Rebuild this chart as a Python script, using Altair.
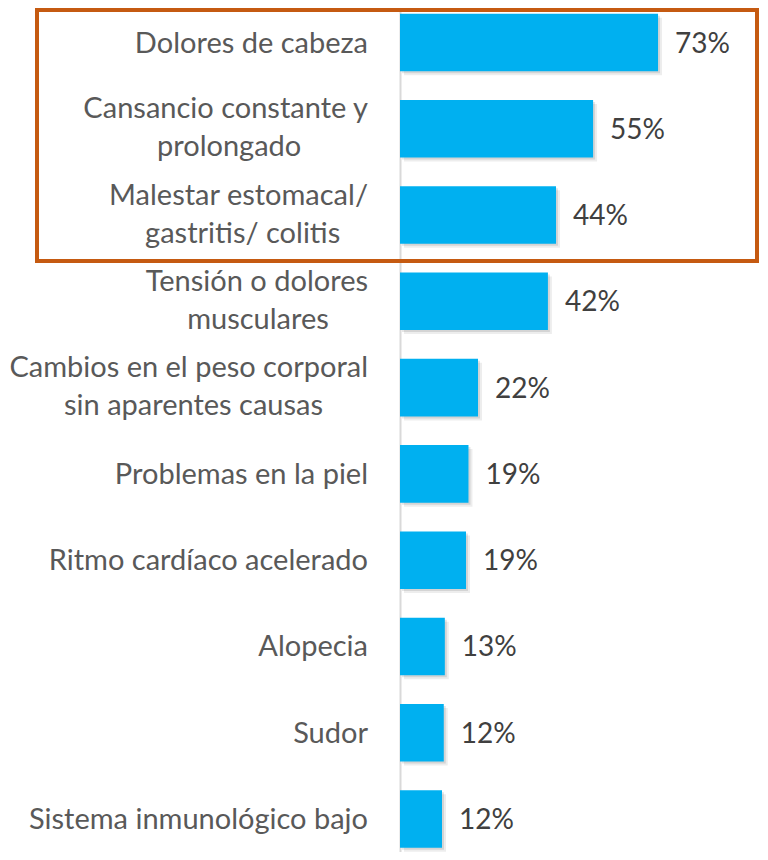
import altair as alt
import pandas as pd

categories = [
    "Dolores de cabeza",
    "Cansancio constante y prolongado",
    "Malestar estomacal/ gastritis/ colitis",
    "Tensión o dolores musculares",
    "Cambios en el peso corporal sin aparentes causas",
    "Problemas en la piel",
    "Ritmo cardíaco acelerado",
    "Alopecia",
    "Sudor",
    "Sistema inmunológico bajo",
]
label_line1 = [
    "Dolores de cabeza",
    "Cansancio constante y",
    "Malestar estomacal/",
    "Tensión o dolores",
    "Cambios en el peso corporal",
    "Problemas en la piel",
    "Ritmo cardíaco acelerado",
    "Alopecia",
    "Sudor",
    "Sistema inmunológico bajo",
]
label_line2 = ["", "prolongado", "gastritis/ colitis", "musculares",
               "sin aparentes causas", "", "", "", "", ""]
values = [73.1, 54.7, 44.2, 41.9, 22.1, 19.4, 18.7, 12.7, 12.4, 11.9]

FS = 29
FS_VAL = 28
FONT = "Lato"
LABEL_GAP = 32
PX_PER_UNIT = 3.53
WIDTH = 353

# rough Lato advance widths (em) used only to centre the second label line
W = {" ": .193, "/": .37, "a": .49, "b": .56, "c": .46, "d": .56, "e": .52,
     "f": .31, "g": .50, "h": .56, "i": .24, "í": .24, "j": .24, "k": .50,
     "l": .24, "m": .84, "n": .56, "o": .56, "ó": .56, "p": .56, "q": .56,
     "r": .36, "s": .42, "t": .34, "u": .56, "v": .50, "w": .76, "x": .49,
     "y": .50, "z": .45, "C": .66, "M": .86, "T": .56}


def est_width(s):
    return sum(W.get(ch, .55) for ch in s) * FS


df = pd.DataFrame({
    "cat": categories,
    "value": values,
    "line1": label_line1,
    "line2": label_line2,
})
df["two"] = df["line2"] != ""
df["x2"] = [(-LABEL_GAP - est_width(a) / 2) / PX_PER_UNIT for a in label_line1]

y_scale = alt.Scale(domain=categories, range=[-8.6, 854.1],
                    paddingInner=0.333, paddingOuter=0.1665)
y_enc = alt.Y("cat:N", sort=categories, scale=y_scale,
              axis=alt.Axis(labels=False, ticks=False, title=None,
                            domainColor="#d9d9d9", domainWidth=2))
x_scale = alt.Scale(domain=[0, 100], nice=False, zero=True)

base = alt.Chart(df).encode(y=y_enc)

shadow1 = base.mark_bar(color="#000000", opacity=0.10, xOffset=2, x2Offset=2,
                        yOffset=2, y2Offset=2).encode(
    x=alt.X("value:Q", scale=x_scale, axis=None))
shadow2 = base.mark_bar(color="#000000", opacity=0.07, xOffset=4, x2Offset=4,
                        yOffset=4, y2Offset=4).encode(
    x=alt.X("value:Q", scale=x_scale, axis=None))
bars = base.mark_bar(color="#00B0F0").encode(
    x=alt.X("value:Q", scale=x_scale, axis=None))

vals = base.mark_text(align="left", baseline="alphabetic", dx=17, dy=10,
                      font=FONT, fontSize=FS_VAL, color="#404040").encode(
    x=alt.X("value:Q", scale=x_scale, axis=None),
    text=alt.Text("lab:N"),
).transform_calculate(lab="format(datum.value, '.0f') + '%'")

single = base.mark_text(align="right", baseline="alphabetic", dy=10,
                        font=FONT, fontSize=FS, color="#595959").encode(
    x=alt.value(-LABEL_GAP), text="line1:N",
).transform_filter("!datum.two")

first = base.mark_text(align="right", baseline="alphabetic", dy=-10.5,
                       font=FONT, fontSize=FS, color="#595959").encode(
    x=alt.value(-LABEL_GAP), text="line1:N",
).transform_filter("datum.two")

second = base.mark_text(align="center", baseline="alphabetic", dy=27.5,
                        font=FONT, fontSize=FS, color="#595959").encode(
    x=alt.X("x2:Q", scale=x_scale, axis=None), text="line2:N",
).transform_filter("datum.two")

box = alt.Chart(df).mark_rect(filled=False, stroke="#C55A11",
                              strokeWidth=4).encode(
    x=alt.value(-363), x2=alt.value(357), y=alt.value(2), y2=alt.value(253))

chart = alt.layer(shadow2, shadow1, bars, vals, single, first, second, box).properties(
    width=WIDTH, height=844,
    autosize=alt.AutoSizeParams(type="none"),
    padding={"left": 392, "top": 0, "right": 7, "bottom": 0},
).configure_view(stroke=None)

chart.save("out.html", embed_options={"renderer": "svg", "actions": False})
